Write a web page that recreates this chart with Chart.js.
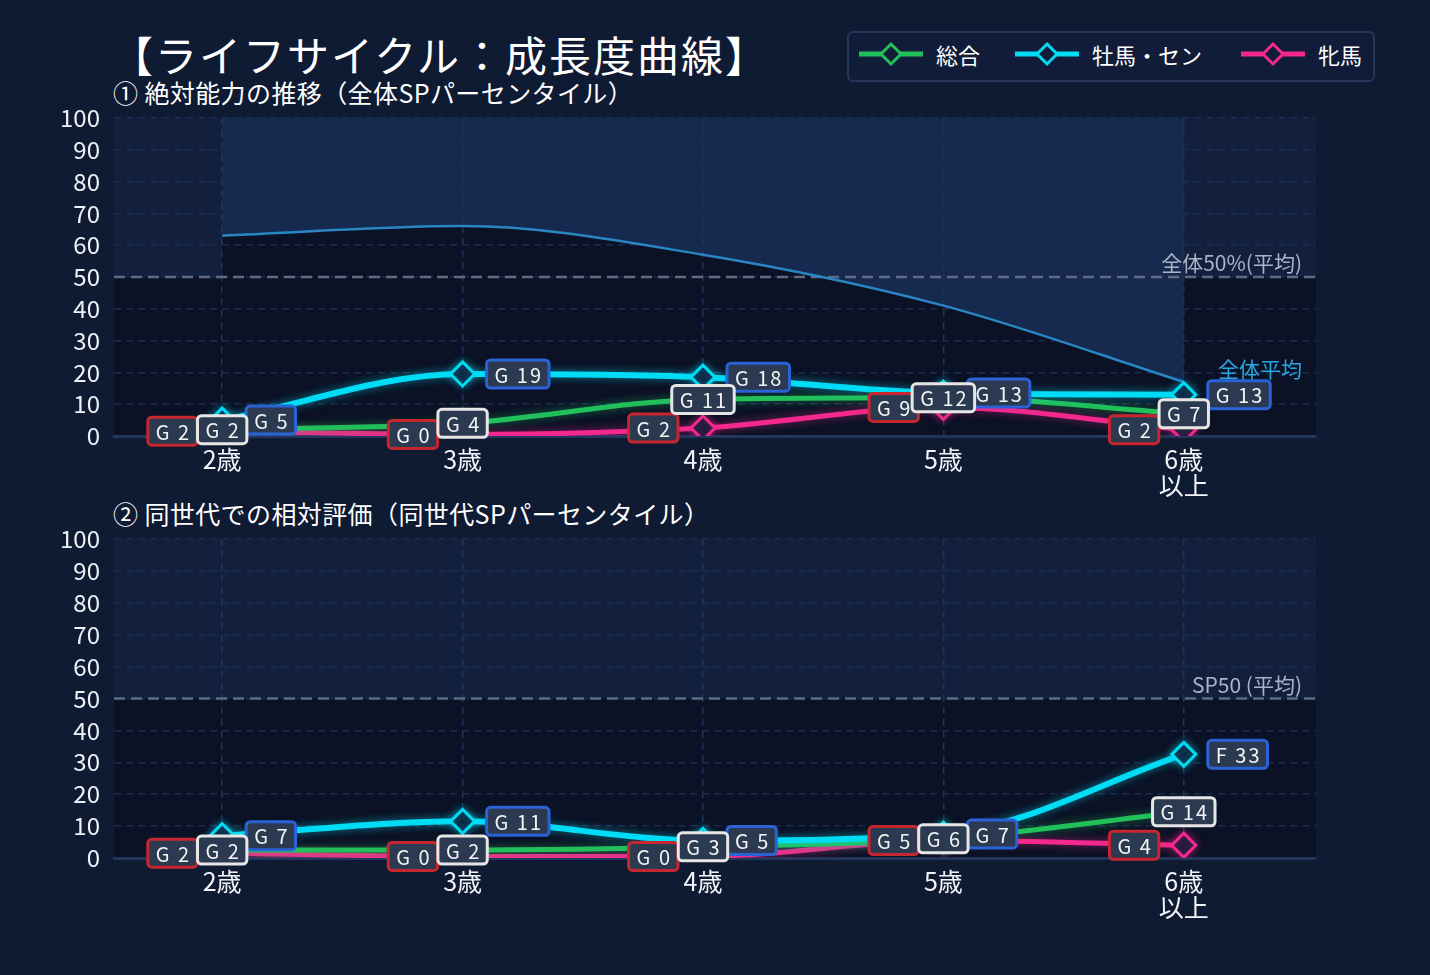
<!DOCTYPE html>
<html>
<head>
<meta charset="utf-8">
<script src="https://cdn.jsdelivr.net/npm/chart.js@4.4.1/dist/chart.umd.min.js"></script>
<style>
body { margin: 0; background: #0f1a33; width: 1430px; height: 975px; overflow: hidden; position: relative;
       font-family: "Noto Sans CJK JP", "Noto Sans", sans-serif; color: #fff; }
#title { position: absolute; left: 111px; top: 26px; font-size: 42px; line-height: 56px; letter-spacing: 2px; white-space: nowrap; }
.sub { position: absolute; left: 113px; font-size: 25px; line-height: 30px; letter-spacing: 0.4px; white-space: nowrap; }
#legend { position: absolute; left: 847px; top: 31px; width: 524px; height: 47px; border: 2px solid #25365a; border-radius: 6px; background: #111d38; }
.item { position: absolute; top: -3px; height: 47px; display: flex; align-items: center; font-size: 22px; white-space: nowrap; }
.item svg { margin-right: 13px; }
.box { position: absolute; left: 0; width: 1430px; }
</style>
</head>
<body>
<div id="title">【ライフサイクル：成長度曲線】</div>
<div class="sub" style="top:77px">① 絶対能力の推移（全体SPパーセンタイル）</div>
<div class="sub" style="top:498px">② 同世代での相対評価（同世代SPパーセンタイル）</div>
<div id="legend"></div>
<div class="box" style="top:100px;height:400px"><canvas id="top"></canvas></div>
<div class="box" style="top:521px;height:401px"><canvas id="bottom"></canvas></div>
<script>
// categories
const ageLabels = ['2歳', '3歳', '4歳', '5歳', ['6歳', '以上']];
const agePos = [0, 1, 2, 3, 4];
const seriesNames = ['総合', '牡馬・セン', '牝馬'];

// ① 絶対能力 (全体SP percentile)
const sogoTop = [2, 4, 11.5, 12, 7];
const botTop = [5, 19.5, 18.5, 13.5, 13];
const hinTop = [1.5, 0.5, 2.5, 9, 2];
const avgTop = [63, 66, 57, 41, 17];
const sogoTopText = ['G 2', 'G 4', 'G 11', 'G 12', 'G 7'];
const botTopText = ['G 5', 'G 19', 'G 18', 'G 13', 'G 13'];
const hinTopText = ['G 2', 'G 0', 'G 2', 'G 9', 'G 2'];

// ② 同世代 relative
const sogoBot = [2.5, 2.5, 3.5, 6, 14.5];
const botBot = [7, 11.5, 5.5, 7.5, 32.5];
const hinBot = [1.5, 0.5, 0.5, 5.5, 4];
const sogoBotText = ['G 2', 'G 2', 'G 3', 'G 6', 'G 14'];
const botBotText = ['G 7', 'G 11', 'G 5', 'G 7', 'F 33'];
const hinBotText = ['G 2', 'G 0', 'G 0', 'G 5', 'G 4'];

// reference level
const xEdges = [-0.45, 4.55];
const avgLevel = [50, 50];

const FONT = '"Noto Sans CJK JP", "Noto Sans", sans-serif';
const colors = { sogo: '#22c05a', bot: '#00dcf5', hin: '#f5288e' };
const borderCol = { sogo: '#e6e6e6', bot: '#2a62d8', hin: '#c8262e' };

// legend
const legend = document.getElementById('legend');
const legendX = [10, 166, 392];
[['sogo', 0], ['bot', 1], ['hin', 2]].forEach(([k, i]) => {
    const d = document.createElement('div');
    d.className = 'item';
    d.style.left = legendX[i] + 'px';
    d.innerHTML = `<svg width="64" height="26"><line x1="0" y1="13" x2="64" y2="13" stroke="${colors[k]}" stroke-width="5"/>` +
        `<polygon points="32,3 42,13 32,23 22,13" fill="#111d38" stroke="${colors[k]}" stroke-width="3"/></svg>${seriesNames[i]}`;
    legend.appendChild(d);
});

const pts = arr => arr.map((v, i) => ({ x: agePos[i], y: v }));
const edge = arr => arr.map((v, i) => ({ x: xEdges[i], y: v }));

function series(key, label, data, order) {
    return {
        label: label, data: pts(data), order: order,
        borderColor: colors[key], borderWidth: key === 'bot' ? 6 : 5,
        pointStyle: 'rectRot', pointRadius: 12, pointBorderWidth: 3,
        pointBackgroundColor: '#0e1a36', pointBorderColor: colors[key],
        cubicInterpolationMode: 'monotone', fill: false,
        glow: colors[key] + '88'
    };
}

// plot backgrounds: light above 50, dark below, and split by the average curve
const bandPlugin = {
    id: 'bands',
    beforeDraw(chart, args, opts) {
        const { ctx, chartArea: a } = chart;
        const y50 = chart.scales.y.getPixelForValue(avgLevel[0]);
        ctx.save();
        ctx.fillStyle = '#13203d';
        ctx.fillRect(a.left, a.top, a.width, y50 - a.top);
        ctx.fillStyle = '#0b1225';
        ctx.fillRect(a.left, y50, a.width, a.bottom - y50);
        if (opts.curveIndex != null) {
            const line = chart.getDatasetMeta(opts.curveIndex).dataset;
            line.updateControlPoints(a, 'x');
            const p = line.points;
            const x0 = p[0].x, x1 = p[p.length - 1].x;
            ctx.beginPath();
            line.path(ctx);
            ctx.lineTo(x1, a.top); ctx.lineTo(x0, a.top); ctx.closePath();
            ctx.fillStyle = '#16294f';
            ctx.fill();
            ctx.beginPath();
            line.path(ctx);
            ctx.lineTo(x1, a.bottom); ctx.lineTo(x0, a.bottom); ctx.closePath();
            ctx.fillStyle = '#0b1225';
            ctx.fill();
        }
        ctx.restore();
    }
};

const glowPlugin = {
    id: 'glow',
    beforeDatasetDraw(chart, args) {
        const ds = chart.data.datasets[args.index];
        if (ds.glow) { chart.ctx.save(); chart.ctx.shadowColor = ds.glow; chart.ctx.shadowBlur = 9; }
    },
    afterDatasetDraw(chart, args) {
        if (chart.data.datasets[args.index].glow) chart.ctx.restore();
    }
};

// grade boxes next to each point
const boxPlugin = {
    id: 'boxes',
    afterDatasetsDraw(chart, args, opts) {
        const ctx = chart.ctx;
        opts.sets.forEach(s => {
            const meta = chart.getDatasetMeta(s.index);
            meta.data.forEach((pt, i) => {
                const text = s.texts[i];
                ctx.save();
                ctx.font = '20px ' + FONT;
                ctx.letterSpacing = '2px';
                const w = ctx.measureText(text).width + 14;
                const h = 28;
                let x;
                if (s.side === 'left') x = pt.x - 25 - w;
                else if (s.side === 'right') x = pt.x + 24;
                else x = pt.x - w / 2;
                const y = pt.y - h / 2;
                ctx.beginPath();
                ctx.roundRect(x, y, w, h, 4);
                ctx.fillStyle = '#2c3a51';
                ctx.fill();
                ctx.lineWidth = 3;
                ctx.strokeStyle = s.color;
                ctx.stroke();
                ctx.fillStyle = '#f4f4f4';
                ctx.textAlign = 'left';
                ctx.textBaseline = 'middle';
                ctx.fillText(text, x + 8, pt.y + 1);
                ctx.restore();
            });
        });
    }
};

// text notes above the 50 line / at the average curve
const notePlugin = {
    id: 'notes',
    afterDraw(chart, args, opts) {
        const ctx = chart.ctx;
        const y = chart.scales.y;
        const right = chart.chartArea.right - 14;
        ctx.save();
        ctx.font = '21px ' + FONT;
        ctx.textAlign = 'right';
        ctx.textBaseline = 'alphabetic';
        ctx.fillStyle = '#aab4c6';
        ctx.fillText(opts.avgText, right, y.getPixelForValue(50) - 6);
        if (opts.curveIndex != null) {
            const meta = chart.getDatasetMeta(opts.curveIndex);
            const last = meta.data[meta.data.length - 1];
            ctx.fillStyle = '#2ba6e2';
            ctx.fillText('全体平均', right, last.y - 5);
        }
        ctx.restore();
    }
};

function makeOptions(curveIndex, avgText, boxes) {
    return {
        responsive: true, maintainAspectRatio: false, animation: false,
        layout: { padding: { top: 18, right: 114, left: 0, bottom: 0 } },
        plugins: {
            legend: { display: false }, tooltip: { enabled: false },
            bands: { curveIndex: curveIndex },
            notes: { avgText: avgText, curveIndex: curveIndex },
            boxes: boxes
        },
        scales: {
            x: {
                type: 'linear', min: xEdges[0], max: xEdges[1],
                afterBuildTicks: s => { s.ticks = agePos.map(v => ({ value: v })); },
                afterFit: s => { s.height = 64; },
                ticks: {
                    callback: v => ageLabels[v], color: '#f2f4f8', padding: 10,
                    font: { size: 25, family: FONT, lineHeight: 1.05 }, maxRotation: 0, autoSkip: false
                },
                grid: { color: '#22335a', lineWidth: 1.5, drawTicks: false },
                border: { display: true, color: '#22355c', width: 3, dash: [7, 5] }
            },
            y: {
                min: 0, max: 100,
                afterFit: s => { s.width = 114; s.paddingTop = 0; s.paddingBottom = 0; },
                ticks: { stepSize: 10, autoSkip: false, color: '#eef1f6', padding: 14, font: { size: 24, family: FONT } },
                grid: { color: '#1d2c4d', lineWidth: 1.5, drawTicks: false },
                border: { display: false, dash: [7, 5] }
            }
        }
    };
}

const fiftySet = () => ({
    data: edge(avgLevel), borderColor: '#5f6b82', borderWidth: 2.5, borderDash: [11, 6],
    pointRadius: 0, fill: false, order: 19
});

new Chart(document.getElementById('top'), {
    type: 'line',
    data: {
        datasets: [
            fiftySet(),
            { data: pts(avgTop), borderColor: '#2a86c2', borderWidth: 2.5, pointRadius: 0,
              cubicInterpolationMode: 'monotone', fill: false, order: 18 },
            series('hin', seriesNames[2], hinTop, 5),
            series('sogo', seriesNames[0], sogoTop, 4),
            series('bot', seriesNames[1], botTop, 3)
        ]
    },
    options: makeOptions(1, '全体50%(平均)', {
        sets: [
            { index: 2, texts: hinTopText, side: 'left', color: borderCol.hin },
            { index: 4, texts: botTopText, side: 'right', color: borderCol.bot },
            { index: 3, texts: sogoTopText, side: 'center', color: borderCol.sogo }
        ]
    }),
    plugins: [bandPlugin, glowPlugin, boxPlugin, notePlugin]
});

new Chart(document.getElementById('bottom'), {
    type: 'line',
    data: {
        datasets: [
            fiftySet(),
            series('hin', seriesNames[2], hinBot, 5),
            series('sogo', seriesNames[0], sogoBot, 4),
            series('bot', seriesNames[1], botBot, 3)
        ]
    },
    options: makeOptions(null, 'SP50 (平均)', {
        sets: [
            { index: 1, texts: hinBotText, side: 'left', color: borderCol.hin },
            { index: 3, texts: botBotText, side: 'right', color: borderCol.bot },
            { index: 2, texts: sogoBotText, side: 'center', color: borderCol.sogo }
        ]
    }),
    plugins: [bandPlugin, glowPlugin, boxPlugin, notePlugin]
});
</script>
</body>
</html>
